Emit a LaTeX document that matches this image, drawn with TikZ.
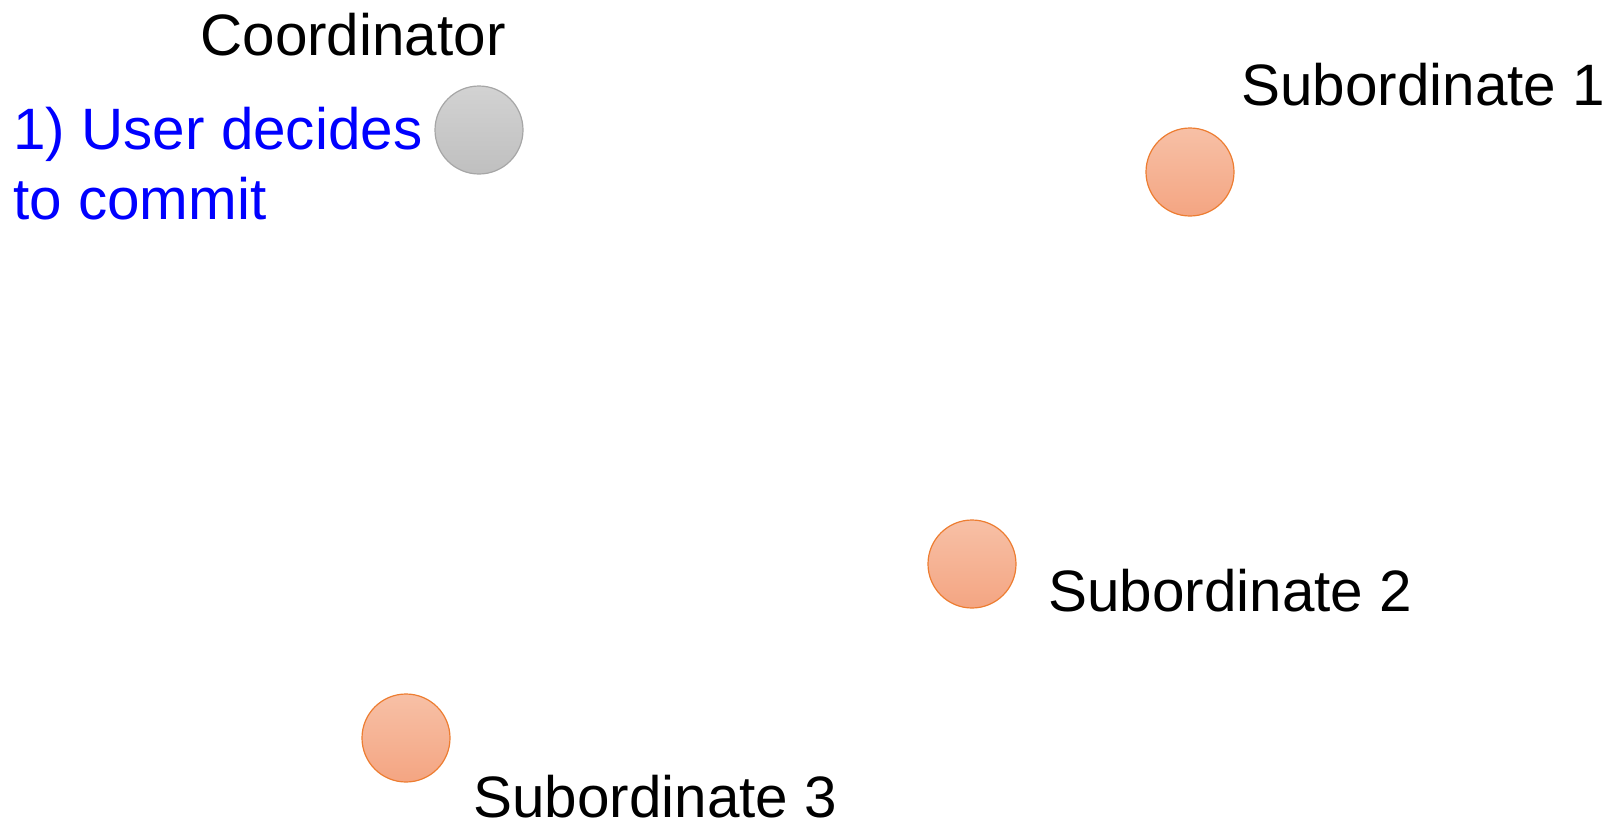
\documentclass[tikz,border=0pt]{standalone}
\usepackage{fontspec}
\setmainfont{Liberation Sans}
\usepackage{tikz}
\usetikzlibrary{positioning}

\definecolor{nodegray}{HTML}{A6A6A6}
\definecolor{nodeorange}{HTML}{ED7D31}

\tikzset{
  coordnode/.style={circle,minimum size=44pt,inner sep=0pt,line width=0.6pt,
    draw=nodegray,top color=gray!35,bottom color=gray!50},
  subnode/.style={circle,minimum size=44pt,inner sep=0pt,line width=0.6pt,
    draw=nodeorange,top color={rgb,255:red,247;green,192;blue,166},
    bottom color={rgb,255:red,244;green,165;blue,130}},
  lbl/.style={inner sep=0pt,anchor=base west,font=\fontsize{29.2}{35}\selectfont}
}

\begin{document}
\begin{tikzpicture}[x=0.5pt,y=-0.5pt]
    \useasboundingbox (0,0) rectangle (1608,825);
    \node[coordnode] (coord) at (479,130) {};
    \node[subnode]   (sub_1) at (1190,172) {};
    \node[subnode]   (sub_2) at (972,564) {};
    \node[subnode]   (sub_3) at (406,738) {};
    % labels
    \node[lbl] (coord_lbl) at (200,55)  {Coordinator};
    \node[lbl] (sub_1_lbl) at (1241,105) {Subordinate 1};
    \node[lbl] (sub_2_lbl) at (1048,611) {Subordinate 2};
    \node[lbl] (sub_3_lbl) at (473,817) {Subordinate 3};
    % step text (base = last line)
    \node[lbl,align=left,text=blue] (step_1) at (13,219) {1) User decides\\to commit};
\end{tikzpicture}
\end{document}
